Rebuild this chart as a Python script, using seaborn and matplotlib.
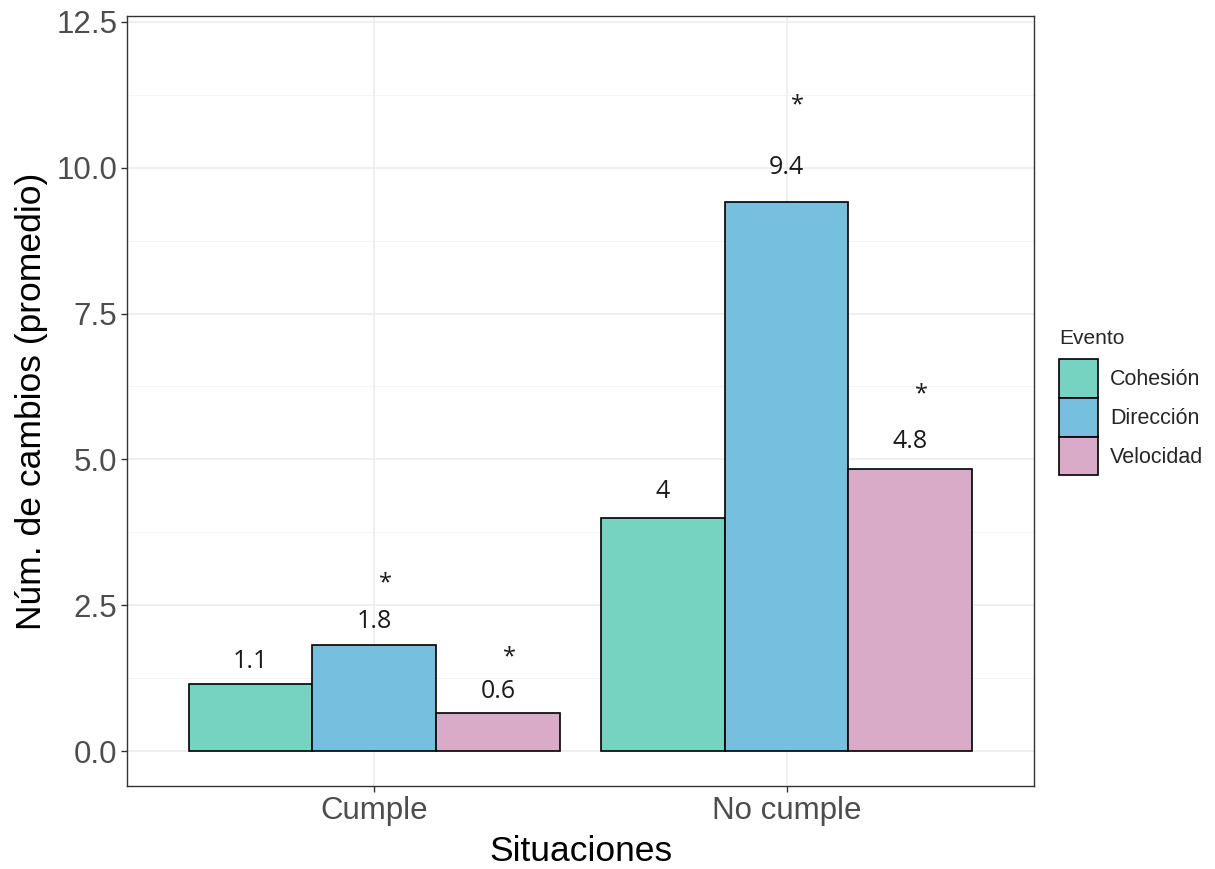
import math
import matplotlib
matplotlib.use("Agg")
import matplotlib.pyplot as plt
from matplotlib.patches import Patch
import pandas as pd
import seaborn as sns

# Mean number of changes per situation and event type
situaciones = ["Cumple", "Cumple", "Cumple", "No cumple", "No cumple", "No cumple"]
eventos = ["Cohesión", "Dirección", "Velocidad", "Cohesión", "Dirección", "Velocidad"]
promedios = [1.15, 1.82, 0.65, 4.0, 9.42, 4.83]
significativo = [False, True, True, False, True, True]

orden_situaciones = ["Cumple", "No cumple"]
orden_eventos = ["Cohesión", "Dirección", "Velocidad"]
colores = {"Cohesión": "#76D3C1", "Dirección": "#77BFDF", "Velocidad": "#DAABC9"}

y_ticks = [0.0, 2.5, 5.0, 7.5, 10.0, 12.5]

df = pd.DataFrame({"Situaciones": situaciones, "Evento": eventos, "valor": promedios})

sns.set_theme(style="white")
plt.rcParams["font.family"] = ["Liberation Sans", "DejaVu Sans"]

fig = plt.figure(figsize=(12.15, 8.69), dpi=100)
ax = fig.add_axes([0.1045, 0.0955, 0.7465, 0.886])

sns.barplot(data=df, x="Situaciones", y="valor", hue="Evento",
            order=orden_situaciones, hue_order=orden_eventos,
            palette=colores, width=0.9, gap=0, edgecolor="black",
            linewidth=1.2, saturation=1, errorbar=None, ax=ax, zorder=2)

ax.set_xlim(-0.6, 1.6)
ax.set_ylim(-0.6, 12.6)
ax.set_yticks(y_ticks)
ax.set_yticklabels([f"{t:.1f}" for t in y_ticks])
ax.set_yticks([1.25, 3.75, 6.25, 8.75, 11.25], minor=True)

# grid as in a bw theme
ax.grid(True, which="major", color="#EBEBEB", linewidth=1.1, zorder=0)
ax.grid(True, which="minor", axis="y", color="#F2F2F2", linewidth=0.6, zorder=0)
ax.set_axisbelow(True)
for s in ax.spines.values():
    s.set_color("#333333")
    s.set_linewidth(1.0)
ax.tick_params(axis="both", which="major", length=4, width=1.0, color="#333333",
               labelsize=22.5, labelcolor="#4D4D4D", pad=3, left=True, bottom=True)
ax.tick_params(axis="both", which="minor", length=0)

ax.set_xlabel("Situaciones", fontsize=25.5, color="black", labelpad=6.5)
ax.set_ylabel("Núm. de cambios (promedio)", fontsize=25.5, color="black", labelpad=6)

# value labels and significance marks above bars
n_hue = len(orden_eventos)
bar_w = 0.9 / n_hue
for sit, ev, v, sig in zip(situaciones, eventos, promedios, significativo):
    xc = orden_situaciones.index(sit) + (orden_eventos.index(ev) - (n_hue - 1) / 2) * bar_w
    etiqueta = f"{math.floor(v * 10 + 1e-9) / 10:g}"
    ax.text(xc, v * 1.025 + 0.35, etiqueta, ha="center", va="center",
            fontsize=18, family="Open Sans", color="#1a1a1a", zorder=3)
    if sig:
        ax.text(xc + 0.027, v * 1.08 + 0.9, "*", ha="center", va="center",
                fontsize=17, family="Open Sans", color="#1a1a1a", zorder=3)

# legend on the right
ax.get_legend().remove()
handles = [Patch(facecolor=colores[e], edgecolor="black", linewidth=1.2) for e in orden_eventos]
leg = fig.legend(handles, orden_eventos, title="Evento", loc="center left",
                 bbox_to_anchor=(0.8716, 0.537), frameon=False, fontsize=15.5,
                 title_fontsize=15, handlelength=1.81, handleheight=2.39,
                 labelspacing=0.0, handletextpad=0.55, borderpad=0, borderaxespad=0,
                 alignment="left")
leg._legend_box.sep = 8

fig.savefig("out.png", dpi=100)
